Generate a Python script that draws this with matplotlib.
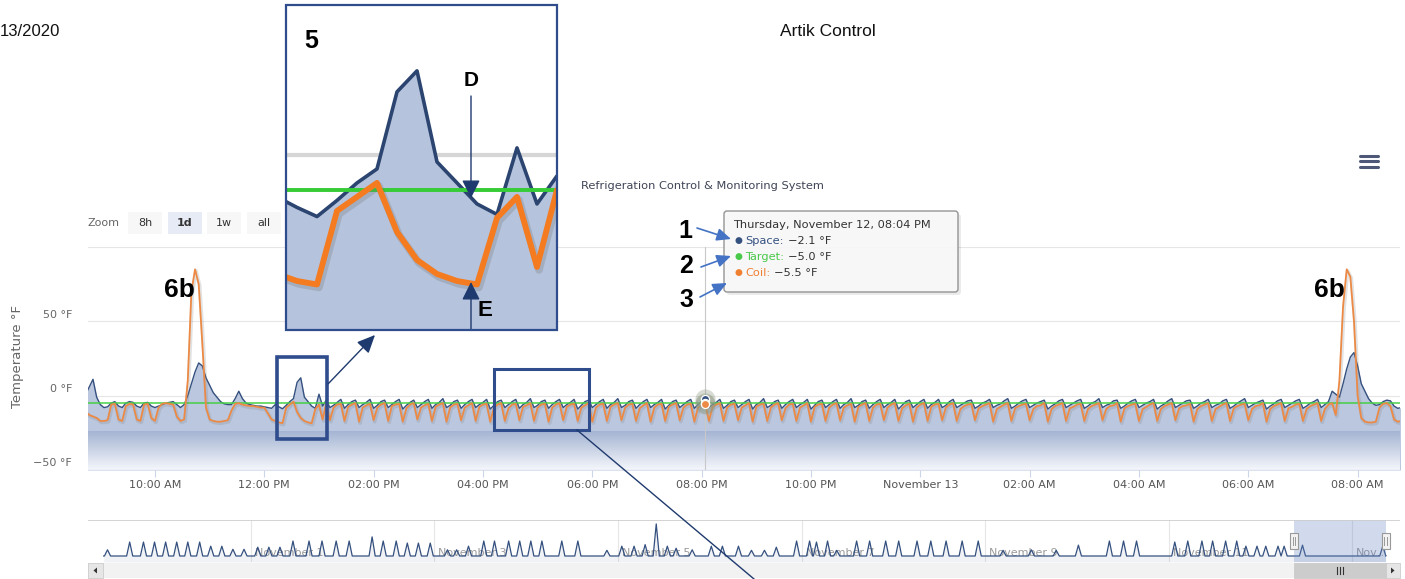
import numpy as np
import pandas as pd
import matplotlib
matplotlib.use("Agg")
import matplotlib.pyplot as plt
import matplotlib.dates as mdates
from matplotlib import transforms
from matplotlib.colors import LinearSegmentedColormap
from matplotlib.patches import Rectangle, FancyBboxPatch, Polygon

plt.rcParams['font.family'] = ['DejaVu Sans']

# ---------------------------------------------------------------- data
series_start = "2020-11-12 08:44"      # one sample every 4 minutes
sample_minutes = 4

# Coil temperature (°F)
coil_morning = [
    -11, -13, -14, -15, -17, -17, -16.5, -6, -5.5, -16,
    -17, -7, -5.5, -6, -16, -17, -6, -5.5, -15, -17,
    -8, -5.5, -5, -5.5, -6, -14, -17, -16, 10, 70,
    85, 75, 35, -8, -16, -17, -17.5, -17.5, -17, -16.5,
    -10, -5.5, -5, -6, -6.5, -7, -7, -7.5, -8, -8,
    -12, -16, -17, -18, -18.5, -8, -6, -4, -11, -15,
    -17, -18, -18.5, -9, -6, -16]
coil_afternoon_evening = [
    -5, -16.5, -8, -6,   -5.5, -17, -7.5, -6,   -5, -17.5, -8, -6.5,   -5.5, -16.5, -8, -6,
    -5, -17, -7, -6,     -5.5, -17.5, -8.5, -6, -5, -16, -8, -6.5,     -5.5, -17, -7.5, -6,
    -5, -17.5, -8, -6,   -5.5, -16.5, -8, -6.5, -5, -17, -7.5, -6,     -5.5, -17.5, -8, -6,
    -5, -17, -8.5, -6,   -5.5, -16.5, -7.5, -6.5, -5, -17, -8, -6,     -5.5, -17.5, -8, -6,
    -5, -16.5, -7.5, -6, -5.5, -17, -8, -6.5,   -5, -17.5, -8, -6,     -5.5, -17, -7.5, -6,
    -5, -16.5, -8, -6,   -5.5, -17, -8.5, -6.5, -5, -17.5, -8, -6,     -5.5, -17, -7.5, -6,
    -5, -16.5, -8, -6,   -5.5, -17.5, -8, -6.5, -5.5, -17, -7.5, -6,   -5, -17, -8, -6,
    -5.5, -16.5, -8, -6.5, -5, -17.5, -7.5, -6, -5.5, -17, -8, -6,     -5, -16.5, -8.5, -6,
    -5.5, -17, -8, -6.5, -5, -17.5, -7.5, -6,   -5.5, -17, -8, -6,     -5, -16.5, -8, -6.5,
    -5.5, -17.5, -7.5, -6, -5, -17, -8, -6,     -5.5, -16.5, -8, -6,   -5, -17, -8.5, -6.5,
    -5.5, -17.5, -8, -6, -5, -17, -7.5, -6,     -5.5, -16.5, -8, -6]
coil_night = [
    -5, -17, -9, -7, -6,      -5.5, -16.5, -8.5, -7, -6,  -5, -17.5, -9, -7.5, -6,
    -5, -17, -8.5, -7, -6,    -5.5, -16.5, -9, -7, -6.5,  -5, -17.5, -9, -7, -6,
    -5, -17, -8.5, -7.5, -6,  -5.5, -17, -9, -7, -6,      -5, -16.5, -9, -7, -6.5,
    -5, -17.5, -8.5, -7, -6,  -5.5, -17, -9, -7.5, -6,    -5, -17, -9, -7, -6,
    -5, -16.5, -8.5, -7, -6.5, -5.5, -17.5, -9, -7, -6,   -5, -17, -9, -7.5, -6,
    -5, -17, -8.5, -7, -6,    -5.5, -16.5, -9, -7, -6.5,  -5, -17.5, -9, -7, -6,
    -5, -17, -8.5, -7.5, -6,  -5.5, -17, -9, -7, -6,      -5, -17, -9, -6]
coil_defrost_am = [
    -5, -13, 10, 60, 85, 80, 50, 0, -15, -17.5,
    -18, -18, -17.5, -8, -5.5, -5, -7, -16, -17.5, -17]

# Space temperature (°F)
space_morning = [
    1, 6, 11, -1, -6, -8, -7.5, -5, -4, -7,
    -8, -5, -4, -4.5, -7, -8, -5, -4.5, -7, -8,
    -7, -6, -5, -4.5, -4, -6, -8, -6, 0, 8,
    16, 22, 20, 12, 7, 2, -1, -4, -5.5, -6,
    -6, -2, 3, -2, -5, -6, -6.5, -7, -7, -7.5,
    -8, -8.5, -6, -7.5, -8.8, -6.5, -4, -2, 9, 12,
    -1, -4, -7, -8.5, 1, -7]
space_afternoon_evening = [
    -3, -8, -6.5, -4.5,  -2.5, -8.5, -6, -4,  -3, -8, -6, -4.5,    -2.5, -8.5, -6.5, -4,
    -3, -8, -6, -4,      -2.5, -9, -6.5, -4.5, -3, -8, -6, -4,     -2.5, -8.5, -6, -4.5,
    -2, -8, -6.5, -4,    -3, -8.5, -6, -4,    -2.5, -8, -6, -4.5,  -2.5, -9, -6.5, -4,
    -3, -8, -6, -4,      -2.5, -8.5, -6, -4.5, -2, -8, -6.5, -4,   -3, -8.5, -6, -4,
    -2.5, -8, -6, -4.5,  -2.5, -9, -6.5, -4,  -3, -8, -6, -4,      -2.5, -8.5, -6, -4.5,
    -2, -8, -6.5, -4,    -3, -8.5, -6, -4,    -2.5, -8, -6, -4.5,  -2.5, -9, -6.5, -4,
    -3, -8, -6, -4,      -2.5, -8.5, -6, -4,  -2.1, -8, -6, -4.5,  -2.5, -8.5, -6.5, -4,
    -3, -8, -6, -4,      -2.5, -9, -6, -4.5,  -2, -8, -6.5, -4,    -3, -8.5, -6, -4,
    -2.5, -8, -6, -4.5,  -2.5, -9, -6.5, -4,  -3, -8, -6, -4,      -2.5, -8.5, -6, -4.5,
    -2, -8, -6.5, -4,    -3, -8.5, -6, -4,    -2.5, -8, -6, -4.5,  -2.5, -9, -6.5, -4,
    -3, -8, -6, -4,      -2.5, -8.5, -6, -4.5, -2.5, -8, -6.5, -4]
space_night = [
    -2.5, -8, -6.5, -5, -3.5,  -3, -8.5, -7, -5, -4,    -2.5, -8, -6.5, -5.5, -3.5,
    -2, -8.5, -7, -5, -3.5,    -2.5, -8, -6.5, -5, -4,  -3, -9, -7, -5.5, -3.5,
    -2.5, -8, -6.5, -5, -3.5,  -2.5, -8.5, -7, -5, -4,  -2, -8, -6.5, -5.5, -3.5,
    -3, -8.5, -7, -5, -3.5,    -2.5, -8, -6.5, -5, -4,  -2.5, -9, -7, -5.5, -3.5,
    -2, -8, -6.5, -5, -3.5,    -3, -8.5, -7, -5, -4,    -2.5, -8, -6.5, -5.5, -3.5,
    -2.5, -8.5, -7, -5, -3.5,  -2, -8, -6.5, -5, -4,    -3, -9, -7, -5.5, -3.5,
    -2.5, -8, -6.5, -5, -3.5,  -2.5, -8.5, -7, -5, -4,  -2.5, -8, -6, -4]
space_defrost_am = [
    3, 1, -1, 8, 18, 26, 29, 20, 8, 3,
    -2, -5, -6.5, -6, -4, -3, -3.5, -7, -8.5, -8]

target_setpoint = -5.0   # °F

x_tick_times = ["2020-11-12 10:00", "2020-11-12 12:00", "2020-11-12 14:00",
                "2020-11-12 16:00", "2020-11-12 18:00", "2020-11-12 20:00",
                "2020-11-12 22:00", "2020-11-13 00:00", "2020-11-13 02:00",
                "2020-11-13 04:00", "2020-11-13 06:00", "2020-11-13 08:00"]
x_tick_labels = ["10:00 AM", "12:00 PM", "02:00 PM", "04:00 PM", "06:00 PM",
                 "08:00 PM", "10:00 PM", "November 13", "02:00 AM", "04:00 AM",
                 "06:00 AM", "08:00 AM"]
y_ticks = [-50, 0, 50, 100]
y_tick_labels = ["\u221250 °F", "0 °F", "50 °F", ""]

tooltip_time = "2020-11-12 20:04"
tooltip_header = "Thursday, November 12, 08:04 PM"

# navigator (Space series, whole history)
nav_origin = "2020-11-01 00:00"
nav_baseline = -7.0
nav_data_hours = (-38.5, 296.75)
nav_spike_hours = [
    -37.5, -31.7, -28.1, -25.2, -22.3, -19.4, -16.5, -13.4, -10.5, -7.6, -4.7, -1.8,
    1.8, 4.7, 7.6, 11.0, 15.2, 18.6, 22.3, 25.7, 31.7, 34.6, 38.0, 40.9, 43.8, 46.9,
    51.4, 53.8, 56.9, 60.9, 63.7, 67.4, 70.3, 73.2, 76.1, 81.3, 85.5, 93.1, 97.0,
    100.2, 103.1, 106.0, 108.9, 111.2, 115.4, 120.4, 123.3, 127.5, 130.9, 134.3,
    137.4, 142.7, 146.1, 147.9, 150.8, 153.2, 158.4, 161.8, 166.0, 169.4, 174.2,
    177.8, 181.8, 186.0, 190.2, 196.7, 204.1, 210.6, 216.4, 224.5, 228.2, 231.6,
    241.6, 245.0, 248.7, 251.5, 254.9, 257.8, 260.2, 263.1, 265.4, 268.6, 270.2,
    275.0, 296.0]
nav_spike_values = [
    5, 20, 20, 20, 20, 20, 20, 20, 12, 12, 6, 6,
    10, 10, 10, 22, 22, 22, 22, 22, 30, 22, 22, 18, 18, 18,
    5, 5, 12, 22, 22, 22, 22, 22, 22, 22, 22, 4, 12,
    12, 15, 55, 12, 8, 5, 12, 12, 12, 4, 4,
    10, 22, 22, 20, 22, 4, 22, 22, 22, 22, 22,
    22, 22, 22, 22, 4, 5, 4, 14, 22, 22, 22,
    20, 22, 22, 22, 22, 22, 12, 12, 12, 12, 12,
    14, 12]
nav_label_days = [0, 2, 4, 6, 8, 10, 12]
nav_labels = ["November 1", "November 3", "November 5", "November 7",
              "November 9", "November 11", "Nov\u2026"]

# ---------------------------------------------------------------- prep
coil = np.array(coil_morning + coil_afternoon_evening + coil_night + coil_defrost_am, float)
space = np.array(space_morning + space_afternoon_evening + space_night + space_defrost_am, float)
n = min(len(coil), len(space))
coil, space = coil[:n], space[:n]
times = pd.date_range(series_start, periods=n, freq=f"{sample_minutes}min")
tnum = mdates.date2num(times.to_pydatetime())

def dnum(s):
    return mdates.date2num(pd.Timestamp(s).to_pydatetime())

v0 = dnum("2020-11-12 08:46:30")
v1 = v0 + 1.0

W, H = 1405, 579
fig = plt.figure(figsize=(W / 100, H / 100), dpi=100)
fig.patch.set_facecolor("white")

def px_axes(x0, y0, x1, y1, **kw):
    return fig.add_axes([x0 / W, 1 - y1 / H, (x1 - x0) / W, (y1 - y0) / H], **kw)

NAVY = "#34507f"
ORANGE = "#ec8a45"
GREEN = "#46d046"

# ---------------------------------------------------------------- main chart
ax = px_axes(88, 247, 1400, 470)
ax.set_zorder(1)
for s in ax.spines.values():
    s.set_visible(False)
ax.fill_between(tnum, space, -50, color="#bac7de", lw=0, zorder=1)
grad = np.linspace(0, 1, 256).reshape(-1, 1)
gcmap = LinearSegmentedColormap.from_list("g", ["#f5f7fb", "#a4b4d3"])
ax.imshow(grad, extent=[v0, v1, -50, -24], origin="lower", aspect="auto",
          cmap=gcmap, zorder=1.1, interpolation="bilinear")
ax.set_xlim(v0, v1)
ax.set_ylim(-50, 100)
for yv in y_ticks[1:]:
    ax.axhline(yv, color="#e6e6e6", lw=0.8, zorder=0.5)
ax.axhline(-50, color="#ccd6eb", lw=1.0, zorder=4)

tip_num = dnum(tooltip_time)
ax.axvline(tip_num, color="#c8c8c8", lw=0.8, zorder=1.5)

ax.plot(tnum, space, color=NAVY, lw=1.0, zorder=3, solid_joinstyle="round")
ax.axhline(target_setpoint, color=GREEN, lw=1.1, zorder=3.2)
shadow = ax.transData + transforms.ScaledTranslation(0.01, -0.015, fig.dpi_scale_trans)
ax.plot(tnum, coil, color="#7f7f7f", alpha=0.22, lw=2.6, zorder=3.3, transform=shadow)
ax.plot(tnum, coil, color=ORANGE, lw=1.3, zorder=3.4, solid_joinstyle="round")

ti = int(np.argmin(np.abs(tnum - tip_num)))
for yv, c in [(space[ti], NAVY), (target_setpoint, GREEN), (coil[ti], ORANGE)]:
    ax.scatter([tnum[ti]], [yv], s=210, color="#8f9a84", alpha=0.35, lw=0, zorder=5)
for yv, c in [(space[ti], NAVY), (target_setpoint, GREEN), (coil[ti], ORANGE)]:
    ax.scatter([tnum[ti]], [yv], s=34, color=c, edgecolor="white", lw=0.9, zorder=6)

ax.set_xticks(mdates.date2num(pd.to_datetime(x_tick_times).to_pydatetime()))
ax.set_xticklabels(x_tick_labels)
ax.tick_params(axis="x", length=5, width=0.8, color="#ccd6eb", pad=2.5,
               labelsize=8, labelcolor="#555555")
ax.set_yticks([])
ylab_tr = transforms.blended_transform_factory(ax.transAxes, ax.transData) + \
    transforms.ScaledTranslation(-0.16, 0.065, fig.dpi_scale_trans)
for yv, lab in zip(y_ticks, y_tick_labels):
    ax.text(0, yv, lab, transform=ylab_tr, ha="right", va="center",
            fontsize=8, color="#666666")
fig.text(18 / W, 1 - 356 / H, "Temperature °F", rotation=90, ha="center",
         va="center", fontsize=9.5, color="#666666")

# ---------------------------------------------------------------- navigator
nav = px_axes(88, 520, 1400, 562)
nav.set_zorder(1)
for s in nav.spines.values():
    s.set_visible(False)
nav0 = dnum(nav_origin)
nav_t = [nav_data_hours[0]]
nav_v = [nav_baseline]
for h, v in zip(nav_spike_hours, nav_spike_values):
    nav_t += [h - 0.8, h, h + 0.8]
    nav_v += [nav_baseline, v, nav_baseline]
nav_t.append(nav_data_hours[1])
nav_v.append(nav_baseline)
nav_x = nav0 + np.array(nav_t) / 24.0
nav.set_xlim(nav0 - 42.6 / 24.0, nav0 + 300.5 / 24.0)
nav.set_ylim(-18.6, 62.6)
nav.set_xticks([])
nav.set_yticks([])
for d, lab in zip(nav_label_days, nav_labels):
    nav.axvline(nav0 + d, color="#e6e6e6", lw=0.8, zorder=0.5)
    nav.text(nav0 + d, -1, lab, fontsize=8, color="#9a9a9a", ha="left", va="center",
             transform=nav.transData + transforms.ScaledTranslation(0.04, 0, fig.dpi_scale_trans),
             clip_on=True, zorder=1)
nav.fill_between(nav_x, nav_v, -18.6, color=NAVY, alpha=0.07, lw=0, zorder=1.5)
nav.plot(nav_x, nav_v, color=NAVY, lw=0.9, zorder=2)
nav.axvspan(v0, v1, color=(0.4, 0.52, 0.76), alpha=0.3, lw=0, zorder=3)
nav.axhline(62.6, color="#cccccc", lw=1.2, zorder=4)

# ---------------------------------------------------------------- inset (zoomed view)
ins = px_axes(287, 5, 557, 330)
ins.set_zorder(9)
for s in ins.spines.values():
    s.set_visible(False)
ins.set_xticks([])
ins.set_yticks([])
ins_lo, ins_hi = -25, 21.4
ins.fill_between(tnum, space, ins_lo, color="#b5c3dc", lw=0, zorder=1)
ins.axhline(0, color="#d6d6d6", lw=3, zorder=0.5)
ins.plot(tnum, space, color="#2b4470", lw=2.6, zorder=3, solid_joinstyle="round")
ins.axhline(target_setpoint, color="#36cc36", lw=2.8, zorder=3.2)
shadow_i = ins.transData + transforms.ScaledTranslation(0.02, -0.03, fig.dpi_scale_trans)
ins.plot(tnum, coil, color="#6f6f6f", alpha=0.25, lw=5.5, zorder=3.3, transform=shadow_i,
         solid_joinstyle="round")
ins.plot(tnum, coil, color="#f47b20", lw=4.2, zorder=3.4, solid_joinstyle="round",
         solid_capstyle="round")
ins.set_xlim(dnum("2020-11-12 12:14"), dnum("2020-11-12 13:08"))
ins.set_ylim(ins_lo, ins_hi)

# ---------------------------------------------------------------- overlay (pixel coords)
ov = fig.add_axes([0, 0, 1, 1], zorder=10)
ov.set_xlim(0, W)
ov.set_ylim(H, 0)
ov.axis("off")
ov.patch.set_alpha(0)

ov.text(0, 32, "13/2020", fontsize=12, family="Liberation Sans", ha="left", va="center",
        color="#111111")
ov.text(828, 32, "Artik Control", fontsize=12.5, family="Liberation Sans", ha="center",
        va="center", color="#111111")
ov.text(702, 186, "Refrigeration Control & Monitoring System", fontsize=8.2,
        ha="center", va="center", color="#3f4456")

# menu icon
for yy in (155.5, 161, 166.5):
    ov.plot([1360, 1378], [yy, yy], color="#4d5777", lw=2.2, solid_capstyle="round")

# zoom buttons
ov.text(88, 222.5, "Zoom", fontsize=8, color="#666666", ha="left", va="center")
for (x0, x1, lab, sel) in [(128, 162, "8h", False), (168, 202, "1d", True),
                           (207, 241, "1w", False), (247, 281, "all", False)]:
    ov.add_patch(Rectangle((x0, 212), x1 - x0, 22, fc="#e6ebf5" if sel else "#f7f7f7",
                           ec="none"))
    ov.text((x0 + x1) / 2, 222.5, lab, fontsize=8, color="#333333", ha="center",
            va="center", weight="bold" if sel else "normal")

# tooltip
ov.add_patch(FancyBboxPatch((727, 214), 234, 81, boxstyle="round,pad=0,rounding_size=3",
                            fc="#000000", alpha=0.08, ec="none"))
ov.add_patch(FancyBboxPatch((724, 211), 234, 81, boxstyle="round,pad=0,rounding_size=3",
                            fc="#f8f8f8", alpha=0.93, ec="#8c8c8c", lw=1.0))
ov.text(733, 224.5, tooltip_header, fontsize=8.2, color="#333333", ha="left", va="center")
fig.canvas.draw()
rend = fig.canvas.get_renderer()
rows = [("Space", space[ti], NAVY, 240.5), ("Target", target_setpoint, "#49c949", 256.5),
        ("Coil", coil[ti], "#f08030", 272.5)]
for name, val, col, yy in rows:
    ov.text(738, yy, "\u25cf", fontsize=6.5, color=col, ha="center", va="center")
    t = ov.text(745, yy, name + ":", fontsize=8.2, color=col, ha="left", va="center")
    wpx = t.get_window_extent(rend).width
    ov.text(745 + wpx + 4, yy, f"{val:.1f} °F".replace("-", "\u2212"), fontsize=8.2,
            color="#333333", ha="left", va="center")

# numbered callouts
BOLD = dict(family="Liberation Sans", weight="bold", color="black")
for lab, (x, y) in [("1", (685, 231)), ("2", (686, 266)), ("3", (686, 300))]:
    ov.text(x, y, lab, fontsize=18, ha="center", va="center", **BOLD)
blue_arrow = dict(arrowstyle="-|>,head_length=8.5,head_width=3.8", mutation_scale=1,
                  color="#4472c4", lw=1.2, shrinkA=0, shrinkB=0)
ov.annotate("", xy=(731, 239), xytext=(697, 228), arrowprops=blue_arrow)
ov.annotate("", xy=(731, 256), xytext=(701, 267), arrowprops=blue_arrow)
ov.annotate("", xy=(727, 283), xytext=(700, 297), arrowprops=blue_arrow)
ov.text(179, 290, "6b", fontsize=19, ha="center", va="center", **BOLD)
ov.text(1329, 290, "6b", fontsize=19, ha="center", va="center", **BOLD)

# highlight boxes and connectors
BOX = "#2f4c8c"
ov.add_patch(Rectangle((277, 357), 50, 82, fc="none", ec=BOX, lw=2.6))
ov.add_patch(Rectangle((494, 369), 95, 61, fc="none", ec=BOX, lw=2.2))
ov.annotate("", xy=(375, 335), xytext=(328, 384),
            arrowprops=dict(arrowstyle="-|>,head_length=11,head_width=5", mutation_scale=1,
                            color="#1f3a6e", lw=1.0, shrinkA=0, shrinkB=0))
ov.plot([577, 754], [430, 579], color="#1f3a6e", lw=1.0)
ov.add_patch(Rectangle((286, 5), 271, 325, fc="none", ec=BOX, lw=1.6, zorder=5))
ov.text(311, 41, "5", fontsize=18, ha="center", va="center", **BOLD)
ov.text(471, 80, "D", fontsize=15, ha="center", va="center", **BOLD)
ov.text(485, 311, "E", fontsize=16, ha="center", va="center", **BOLD)
dark_arrow = dict(arrowstyle="-|>,head_length=11,head_width=5.5", mutation_scale=1,
                  color="#1f3a6e", lw=1.0, shrinkA=0, shrinkB=0)
ov.annotate("", xy=(471, 198), xytext=(471, 96), arrowprops=dark_arrow)
ov.annotate("", xy=(471, 282), xytext=(471, 330), arrowprops=dark_arrow)

# navigator handles and scrollbar
hx0 = nav.transData.transform((v0, 0))[0]
hx1 = nav.transData.transform((v1, 0))[0]
ov.add_patch(Rectangle((88, 563), 1312, 15, fc="#f2f2f2", ec="none"))
ov.add_patch(Rectangle((88, 563), 15, 15, fc="#e6e6e6", ec="#cccccc", lw=0.6))
ov.add_patch(Rectangle((1385, 563), 15, 15, fc="#e6e6e6", ec="#cccccc", lw=0.6))
ov.add_patch(Polygon([(93.5, 570.5), (97, 567.5), (97, 573.5)], closed=True, fc="#333333"))
ov.add_patch(Polygon([(1394.5, 570.5), (1391, 567.5), (1391, 573.5)], closed=True, fc="#333333"))
ov.add_patch(Rectangle((hx0, 563), hx1 - hx0, 15, fc="#cccccc", ec="#cccccc", lw=0.6))
mid = (hx0 + hx1) / 2
for dx in (-3, 0, 3):
    ov.plot([mid + dx, mid + dx], [567, 574], color="#333333", lw=0.8)
for hx in (hx0, hx1):
    ov.add_patch(Rectangle((hx - 4, 533), 8, 16, fc="#f2f2f2", ec="#999999", lw=0.8))
    for dx in (-1.3, 1.3):
        ov.plot([hx + dx, hx + dx], [537, 545], color="#999999", lw=0.7)

fig.savefig("out.png", dpi=100, facecolor="white")
